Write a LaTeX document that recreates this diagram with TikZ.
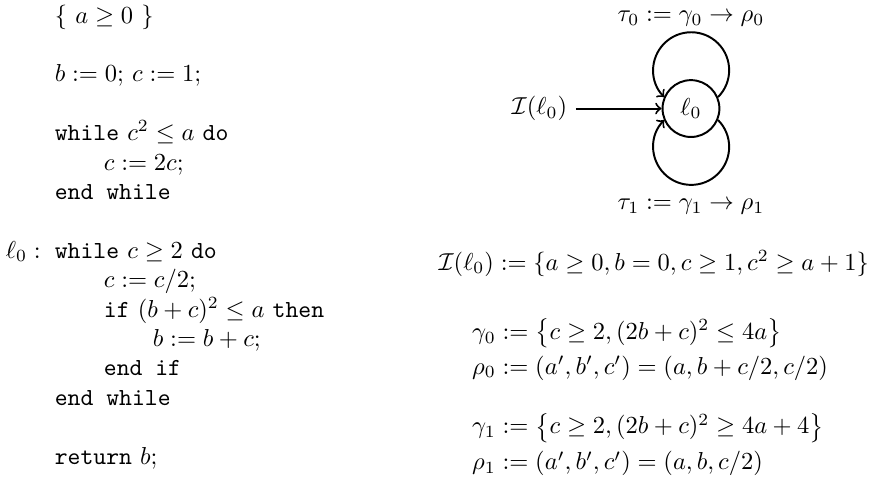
\documentclass[tikz,border=0pt]{standalone}
\usepackage{amsmath,amssymb}
\usetikzlibrary{positioning}

\newcommand{\kw}[1]{\texttt{#1}}

\begin{document}
\begin{tikzpicture}[
    >=to,
    state/.style={draw, circle, thick, minimum size=23.2pt, inner sep=0pt},
    trans/.style={->, thick},
    lbl/.style={inner sep=1pt},
    txt/.style={anchor=base west, inner sep=0pt}
  ]
    \useasboundingbox (0,0) rectangle (356.7pt,-196.7pt);
    % Program
    \node[txt] (prog) at (2.2pt,-9.4pt) {%
      \begin{tabular}[t]{@{}p{20pt}@{}l@{}}
        & $\{\ a \geq 0\ \}$ \\[12pt]
        & $b := 0$; $c := 1$; \\[12pt]
        & \kw{while} $c^2 \leq a$ \kw{do} \\
        & \hspace*{2em}$c := 2c$; \\
        & \kw{end while} \\[12pt]
        $\ell_0:$ & \kw{while} $c \geq 2$ \kw{do} \\
        & \hspace*{2em}$c := c/2$; \\
        & \hspace*{2em}\kw{if} $(b+c)^2 \leq a$ \kw{then} \\
        & \hspace*{4em}$b := b+c$; \\
        & \hspace*{2em}\kw{end if} \\
        & \kw{end while} \\[12pt]
        & \kw{return} $b$;
      \end{tabular}};
    % Automaton
    \node[state] (l0) at (282pt,-44.3pt) {$\ell_0$};
    \node[left=35pt of l0] (init) {$\mathcal{I}(\ell_0)$};
    \node[lbl, above=20.3pt of l0] (tau0) {$\tau_0 := \gamma_0 \rightarrow \rho_0$};
    \node[lbl, below=23.8pt of l0] (tau1) {$\tau_1 := \gamma_1 \rightarrow \rho_1$};
    \draw[trans] (init) -- (l0);
    \draw[trans] (l0.23.5) arc[start angle=-45, end angle=225, radius=15.5pt];
    \draw[trans] (l0.-23.5) arc[start angle=45, end angle=-225, radius=15.5pt];
    % Invariant and transitions
    \node[txt] (inv) at (178.8pt,-110.2pt) {$\mathcal{I}(\ell_0) := \{a \geq 0, b = 0, c \geq 1, c^2 \geq a+1\}$};
    \node[txt] (g0) at (192.5pt,-138.6pt) {$\gamma_0 := \left\{c \geq 2, (2b+c)^2 \leq 4a\right\}$};
    \node[txt] (r0) at (192.5pt,-152.7pt) {$\rho_0 := (a', b', c') = (a, b + c/2, c/2)$};
    \node[txt] (g1) at (192.5pt,-177.1pt) {$\gamma_1 := \left\{c \geq 2, (2b+c)^2 \geq 4a + 4\right\}$};
    \node[txt] (r1) at (192.5pt,-191.8pt) {$\rho_1 := (a', b', c') = (a, b, c/2)$};
\end{tikzpicture}
\end{document}
